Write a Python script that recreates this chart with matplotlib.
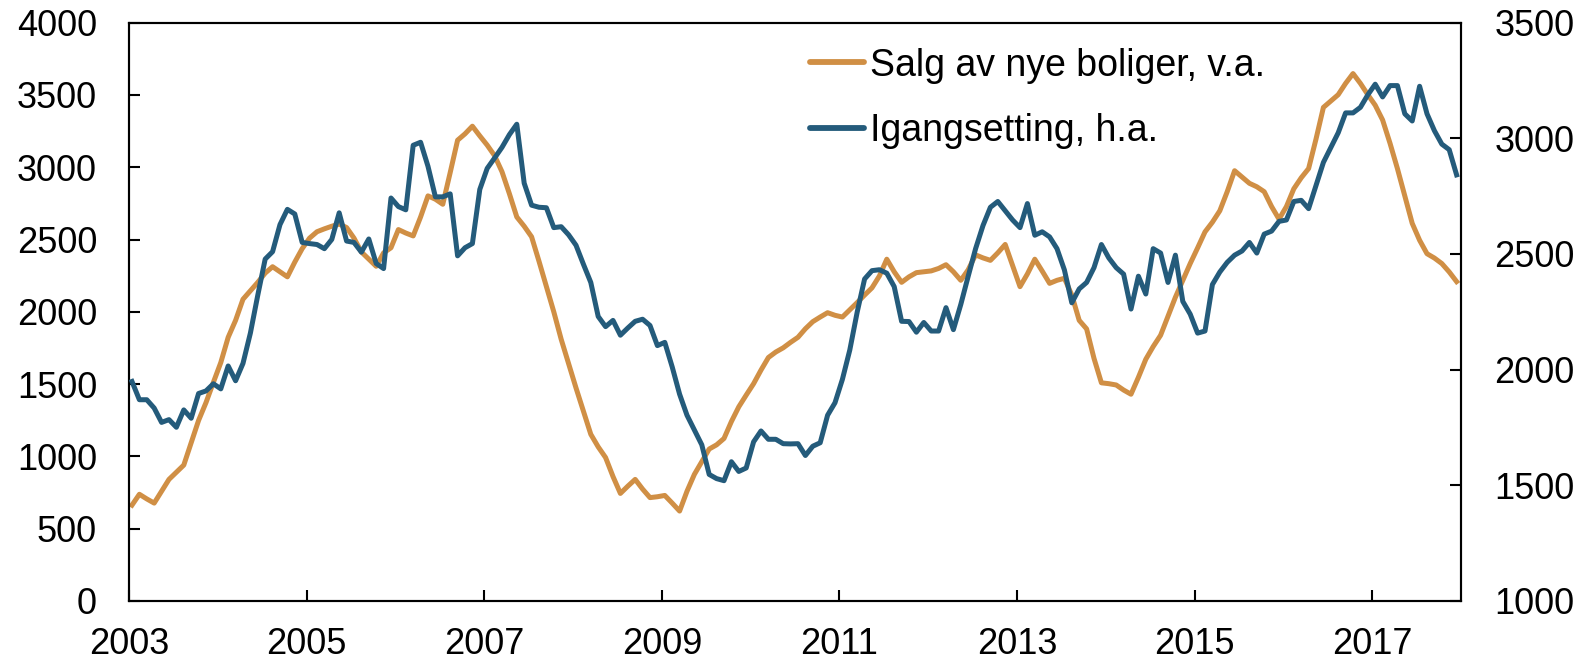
import numpy as np
import matplotlib
matplotlib.use('Agg')
import matplotlib.pyplot as plt

plt.rcParams['font.family'] = ['Liberation Sans', 'DejaVu Sans']

# monthly observations, Jan 2003 - Dec 2017
salg = [663, 738, 706, 677, 759, 841, 890, 940, 1095, 1249, 1372, 1512,
        1649, 1824, 1941, 2087, 2145, 2204, 2268, 2312, 2277, 2242, 2344, 2437,
        2510, 2554, 2574, 2592, 2607, 2583, 2510, 2414, 2364, 2315, 2408, 2443,
        2569, 2545, 2525, 2656, 2802, 2779, 2744, 2963, 3187, 3231, 3284, 3217,
        3153, 3080, 2969, 2817, 2656, 2592, 2519, 2350, 2175, 2000, 1810, 1643,
        1474, 1314, 1153, 1066, 992, 861, 744, 794, 841, 774, 715, 721,
        730, 677, 622, 759, 876, 963, 1051, 1080, 1124, 1241, 1343, 1424,
        1503, 1597, 1684, 1722, 1751, 1789, 1824, 1883, 1932, 1964, 1994, 1976,
        1964, 2014, 2064, 2116, 2166, 2248, 2364, 2277, 2204, 2242, 2271, 2277,
        2283, 2300, 2326, 2277, 2218, 2291, 2394, 2373, 2356, 2408, 2466, 2321,
        2174, 2262, 2364, 2282, 2197, 2218, 2232, 2116, 1941, 1882, 1678, 1509,
        1503, 1494, 1459, 1430, 1547, 1672, 1760, 1838, 1970, 2101, 2218, 2334,
        2442, 2553, 2620, 2699, 2831, 2976, 2933, 2889, 2865, 2831, 2728, 2641,
        2728, 2851, 2927, 2991, 3195, 3414, 3458, 3502, 3580, 3648, 3580, 3502,
        3429, 3327, 3166, 2991, 2801, 2612, 2495, 2402, 2372, 2334, 2276, 2209]

igangsetting = [1949, 1870, 1870, 1834, 1772, 1784, 1751, 1826, 1790, 1897, 1908, 1939,
                1917, 2016, 1952, 2027, 2158, 2322, 2478, 2510, 2627, 2693, 2673, 2550,
                2545, 2541, 2523, 2563, 2678, 2556, 2550, 2508, 2565, 2459, 2437, 2742,
                2705, 2691, 2970, 2983, 2879, 2747, 2747, 2760, 2492, 2527, 2545, 2779,
                2870, 2915, 2961, 3016, 3061, 2806, 2711, 2702, 2700, 2614, 2618, 2583,
                2538, 2456, 2377, 2230, 2186, 2213, 2149, 2180, 2209, 2218, 2191, 2104,
                2118, 2012, 1894, 1803, 1739, 1675, 1547, 1529, 1520, 1602, 1560, 1575,
                1688, 1735, 1699, 1699, 1680, 1679, 1680, 1629, 1669, 1684, 1803, 1857,
                1958, 2085, 2249, 2392, 2428, 2432, 2417, 2359, 2209, 2208, 2162, 2204,
                2167, 2167, 2268, 2173, 2282, 2404, 2523, 2623, 2702, 2727, 2687, 2647,
                2614, 2718, 2581, 2596, 2574, 2523, 2431, 2289, 2349, 2377, 2441, 2541,
                2483, 2441, 2413, 2262, 2404, 2327, 2523, 2504, 2377, 2495, 2295, 2240,
                2158, 2167, 2368, 2422, 2464, 2495, 2513, 2550, 2504, 2586, 2599, 2641,
                2647, 2727, 2732, 2696, 2796, 2896, 2960, 3024, 3110, 3110, 3134, 3188,
                3234, 3179, 3228, 3228, 3106, 3075, 3225, 3106, 3033, 2975, 2951, 2842]

months = np.arange(len(salg))
t = 2003 + (months + 0.4) / 12.0

xticks = list(range(2003, 2018, 2))
left_ticks = list(range(0, 4001, 500))
right_ticks = list(range(1000, 3501, 500))

orange = '#D08F45'
blue = '#245B7B'

fig = plt.figure(figsize=(15.85, 6.61), dpi=100)
ax = fig.add_axes([0.0814, 0.0908, 0.9218 - 0.0814, 0.9657 - 0.0908])
ax2 = ax.twinx()

l1, = ax.plot(t, salg, color=orange, lw=3.6, label='Salg av nye boliger, v.a.', zorder=2)
l2, = ax2.plot(t, igangsetting, color=blue, lw=3.6, label='Igangsetting, h.a.', zorder=3)

ax.set_xlim(2003, 2018)
ax.set_ylim(0, 4000)
ax2.set_ylim(1000, 3500)
ax.set_xticks(xticks)
ax.set_yticks(left_ticks)
ax2.set_yticks(right_ticks)

for a in (ax, ax2):
    for s in a.spines.values():
        s.set_linewidth(1.5)
ax.tick_params(axis='both', direction='in', length=8, width=1.5, labelsize=26)
ax.tick_params(axis='y', pad=23)
ax.tick_params(axis='x', pad=19)
ax2.tick_params(axis='y', direction='in', length=8, width=1.5, labelsize=26, pad=24)

leg = ax.legend(handles=[l1, l2], loc='upper left', bbox_to_anchor=(0.511, 0.957),
                frameon=False, fontsize=27, handlelength=1.45, handletextpad=0.15,
                labelspacing=0.78, borderpad=0, borderaxespad=0)
for h in leg.get_lines():
    h.set_linewidth(4.2)
    h.set_solid_capstyle('round')
leg.set_zorder(5)

fig.savefig('out.png', dpi=100)
